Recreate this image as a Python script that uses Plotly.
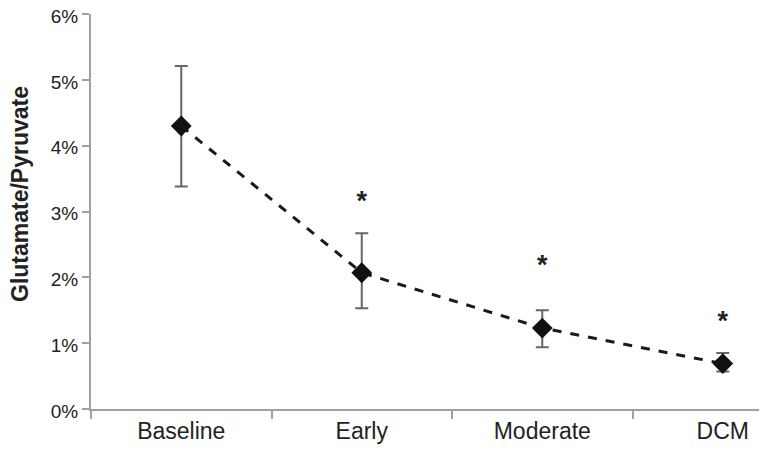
import plotly.graph_objects as go

categories = ["Baseline", "Early", "Moderate", "DCM"]
ratio = [0.0430, 0.0207, 0.0123, 0.0069]
err_plus = [0.0091, 0.0060, 0.0027, 0.0016]
err_minus = [0.0092, 0.0054, 0.0029, 0.0012]
star_y = [None, 0.0313, 0.0216, 0.0130]
y_ticks = [0, 0.01, 0.02, 0.03, 0.04, 0.05, 0.06]
y_ticklabels = ["0%", "1%", "2%", "3%", "4%", "5%", "6%"]

xpos = list(range(len(categories)))
font = "Liberation Sans, Arial, Helvetica, sans-serif"

# page body adds an 8px offset; figure sized to fill the remaining window
W, H = 759, 442
L, T, B = 83, 6, 41
PW = W - L

fig = go.Figure()
fig.add_trace(go.Scatter(
    x=xpos, y=ratio, mode="lines+markers",
    line=dict(color="#1a1a1a", width=3, dash="dash"),
    marker=dict(symbol="diamond", size=16, color="#111111"),
    error_y=dict(type="data", symmetric=False, array=err_plus, arrayminus=err_minus,
                 color="#666666", thickness=2, width=6.5),
    showlegend=False,
))
sx = [x for x, s in zip(xpos, star_y) if s is not None]
sy = [s for s in star_y if s is not None]
fig.add_trace(go.Scatter(
    x=sx, y=sy, mode="text", text=["<b>*</b>"] * len(sx),
    textfont=dict(family=font, size=27, color="#222222"),
    textposition="middle center", showlegend=False,
))

fig.update_layout(
    width=W, height=H,
    margin=dict(l=L, r=0, t=T, b=B),
    plot_bgcolor="white", paper_bgcolor="white",
    font=dict(family=font, size=20, color="#222222"),
    xaxis=dict(
        range=[-0.5, 3.245], tickmode="array", tickvals=xpos, ticktext=categories,
        ticks="", showgrid=False, zeroline=False, automargin=False,
        showline=True, linecolor="#a0a0a0", linewidth=2,
        tickfont=dict(size=23, color="#222222"),
        minor=dict(tick0=0.5, dtick=1, ticks="outside", ticklen=8, tickcolor="#a0a0a0", tickwidth=2, showgrid=False),
    ),
    yaxis=dict(
        range=[0, 0.06002], tickmode="array", tickvals=y_ticks, ticktext=y_ticklabels,
        ticks="outside", ticklen=7, tickcolor="#a0a0a0", tickwidth=2,
        showgrid=False, zeroline=False, automargin=False, ticklabeloverflow="allow",
        ticklabelshift=2,
        showline=True, linecolor="#a0a0a0", linewidth=2,
        tickfont=dict(size=19, color="#222222"),
    ),
    annotations=[dict(
        text="<b>Glutamate/Pyruvate</b>", xref="paper", yref="paper",
        x=(12 - L) / PW, y=(401 - 186) / 395, xanchor="center", yanchor="middle",
        textangle=-90, showarrow=False, font=dict(family=font, size=23, color="#222222"),
    )],
)
fig.write_html("out.html")
